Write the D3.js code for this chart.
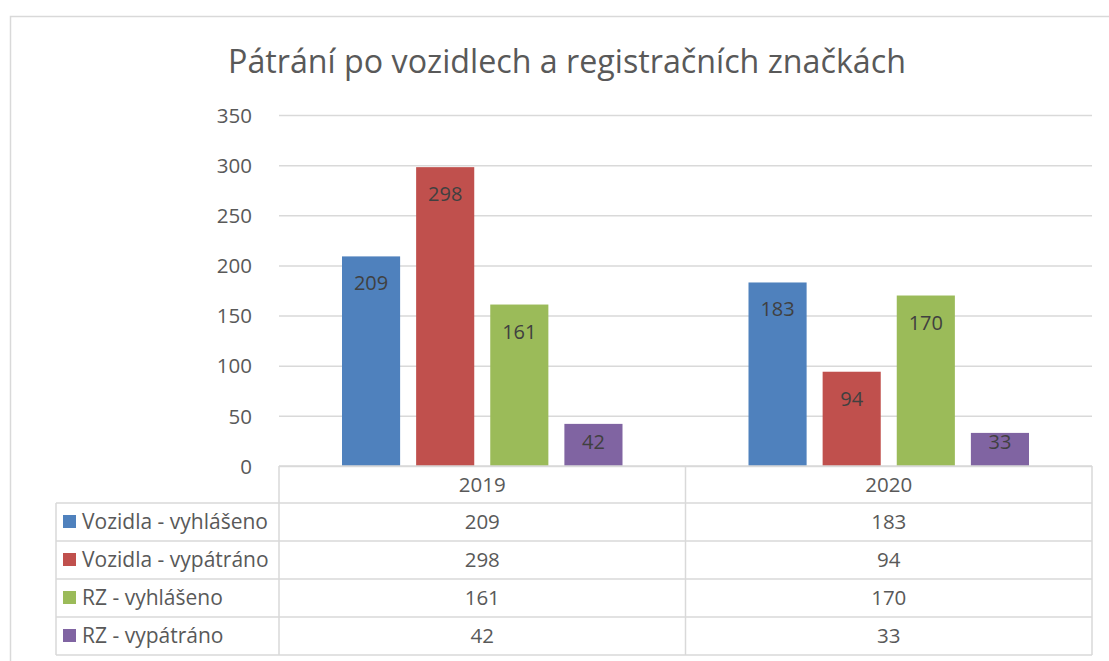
<!DOCTYPE html>
<html><head><meta charset="utf-8">
<script src="https://cdn.jsdelivr.net/npm/d3@7"></script>
<style>body{margin:0;background:#fff}svg{display:block}</style>
</head><body>
<svg id="c" width="1109" height="661"></svg>
<script>
const title = "Pátrání po vozidlech a registračních značkách";
const years = ["2019", "2020"];
const seriesNames = ["Vozidla - vyhlášeno", "Vozidla - vypátráno", "RZ - vyhlášeno", "RZ - vypátráno"];
const vozidlaVyhlaseno = [209, 183];
const vozidlaVypatrano = [298, 94];
const rzVyhlaseno = [161, 170];
const rzVypatrano = [42, 33];
const yTicks = [0, 50, 100, 150, 200, 250, 300, 350];
const colors = ["#4F81BD", "#C0504D", "#9BBB59", "#8064A2"];

const seriesValues = [vozidlaVyhlaseno, vozidlaVypatrano, rzVyhlaseno, rzVypatrano];
const FONT = "'Open Sans', sans-serif";
const grid = "#d9d9d9";
const svg = d3.select("#c");

// outer chart border
svg.append("path").attr("d", "M10.5,661 V16.5 H1109").attr("fill", "none").attr("stroke", grid).attr("stroke-width", 1.5);

// title
const t = svg.append("text").attr("x", 567).attr("y", 73).attr("text-anchor", "middle")
  .attr("fill", "#595959").style("font-family", FONT).style("font-size", "30px").text(title);
const tw = t.node().getComputedTextLength();
t.style("font-size", (30 * 678 / tw) + "px");

const x0 = 279, x1 = 1092;
const y = d3.scaleLinear().domain([0, 350]).range([466, 115]);
const x = d3.scaleBand().domain(years).range([x0, x1]).padding(0);
const bw = x.bandwidth();
const xi = d3.scaleBand().domain(seriesNames).range([63, bw - 63]).paddingInner(0.216);

// gridlines + y axis labels
const yAxis = d3.axisLeft(y).tickValues(yTicks).tickSize(-(x1 - x0)).tickPadding(27);
const ga = svg.append("g").attr("transform", `translate(${x0},0)`).call(yAxis);
ga.select(".domain").remove();
ga.selectAll(".tick line").attr("stroke", grid).attr("stroke-width", 1.5);
ga.selectAll(".tick text").attr("fill", "#595959").style("font-family", FONT).style("font-size", "20.5px").attr("dy", "0.35em");

// bars
seriesNames.forEach((s, si) => {
  const g = svg.append("g");
  g.selectAll("rect").data(years).join("rect")
    .attr("x", d => x(d) + xi(s))
    .attr("width", xi.bandwidth())
    .attr("y", (d, i) => y(seriesValues[si][i]))
    .attr("height", (d, i) => y(0) - y(seriesValues[si][i]))
    .attr("fill", colors[si]);
  g.selectAll("text").data(years).join("text")
    .attr("x", d => x(d) + xi(s) + xi.bandwidth() / 2)
    .attr("y", (d, i) => Math.min(y(seriesValues[si][i]) + 27, y(0) - 24))
    .attr("dy", "0.35em")
    .attr("text-anchor", "middle").attr("fill", "#404040")
    .style("font-family", FONT).style("font-size", "20px")
    .text((d, i) => seriesValues[si][i]);
});

// data table
const tblLeft = 56;
const headerTop = 466, headerH = 37, rowH = 38;
const tb = svg.append("g").attr("stroke", grid).attr("stroke-width", 1.5).attr("fill", "none");
tb.append("line").attr("x1", x0).attr("x2", x1).attr("y1", headerTop).attr("y2", headerTop);
for (let r = 0; r <= seriesNames.length; r++) {
  const yy = headerTop + headerH + r * rowH;
  tb.append("line").attr("x1", tblLeft).attr("x2", x1).attr("y1", yy).attr("y2", yy);
}
const tblBottom = headerTop + headerH + seriesNames.length * rowH;
tb.append("line").attr("x1", tblLeft).attr("x2", tblLeft).attr("y1", headerTop + headerH).attr("y2", tblBottom);
years.forEach(yr => {
  tb.append("line").attr("x1", x(yr)).attr("x2", x(yr)).attr("y1", headerTop).attr("y2", tblBottom);
});
tb.append("line").attr("x1", x1).attr("x2", x1).attr("y1", headerTop).attr("y2", tblBottom);

// header text
svg.append("g").selectAll("text").data(years).join("text")
  .attr("x", d => x(d) + bw / 2).attr("y", headerTop + headerH / 2).attr("dy", "0.35em")
  .attr("text-anchor", "middle").attr("fill", "#595959")
  .style("font-family", FONT).style("font-size", "20.5px").text(d => d);

seriesNames.forEach((s, si) => {
  const cy = headerTop + headerH + si * rowH + rowH / 2;
  svg.append("rect").attr("x", 63).attr("y", cy - 7).attr("width", 13).attr("height", 13).attr("fill", colors[si]);
  const lt = svg.append("text").attr("x", 82).attr("y", cy).attr("dy", "0.35em").attr("fill", "#595959")
    .style("font-family", FONT).style("font-size", "21px").text(s);
  svg.append("g").selectAll("text").data(years).join("text")
    .attr("x", d => x(d) + bw / 2).attr("y", cy).attr("dy", "0.35em")
    .attr("text-anchor", "middle").attr("fill", "#595959")
    .style("font-family", FONT).style("font-size", "20.5px")
    .text((d, i) => seriesValues[si][i]);
});
</script>
</body></html>
